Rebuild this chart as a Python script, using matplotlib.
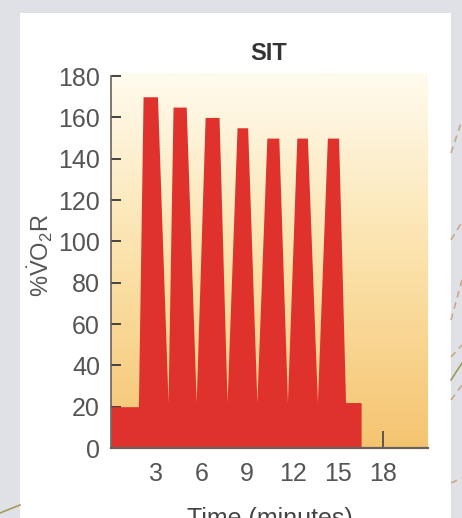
import numpy as np
import matplotlib
matplotlib.use("Agg")
import matplotlib.pyplot as plt
from matplotlib.lines import Line2D
from matplotlib.patches import Rectangle
from matplotlib.colors import LinearSegmentedColormap

# ---- data ----
time_min = [0, 1.81, 2.12, 3.07, 3.77, 4.10, 4.97, 5.63, 6.22, 7.14, 7.67,
            8.33, 9.03, 9.64, 10.30, 11.09, 11.66, 12.28, 12.98, 13.64,
            14.30, 15.04, 15.50, 16.53, 16.53]
vo2r_pct = [20, 20, 170, 170, 22, 165, 165, 22, 160, 160, 22,
            155, 155, 22, 150, 150, 22, 150, 150, 22,
            150, 150, 22, 22, 0]
x_ticks = [3, 6, 9, 12, 15, 18]
y_ticks = [0, 20, 40, 60, 80, 100, 120, 140, 160, 180]
title = "SIT"
x_label = "Time (minutes)"
y_label = r"%$\dot{\mathrm{V}}\mathrm{O}_{2}$R"

FONT = ["Liberation Sans Narrow", "Liberation Sans", "DejaVu Sans"]
plt.rcParams["font.family"] = FONT
plt.rcParams["mathtext.fontset"] = "custom"
plt.rcParams["mathtext.rm"] = "Liberation Sans"
plt.rcParams["mathtext.it"] = "Liberation Sans:italic"
plt.rcParams["mathtext.bf"] = "Liberation Sans:bold"

W, H = 462, 518
fig = plt.figure(figsize=(W / 100, H / 100), dpi=100)
fig.patch.set_facecolor("#dfe1e6")

def fx(px):
    return px / W

def fy(py):
    return 1 - py / H

# white card
fig.patches.append(Rectangle((fx(20), 0), fx(451) - fx(20), fy(13),
                             transform=fig.transFigure, facecolor="white",
                             edgecolor="none", zorder=-2))

# decorative lines on the slide background
deco = [((451, 153), (462, 120), "#c9a98a", "--"),
        ((451, 240), (462, 222), "#c9a98a", "--"),
        ((451, 320), (462, 280), "#c9a98a", "--"),
        ((451, 357), (462, 345), "#c9a98a", "--"),
        ((451, 400), (462, 385), "#c9a98a", "--"),
        ((451, 483), (462, 478), "#c9a98a", "--"),
        ((451, 380), (462, 363), "#9c9a5c", "-"),
        ((0, 513), (20, 505), "#a89a5c", "-")]
for (x0, y0), (x1, y1), c, ls in deco:
    ln = Line2D([fx(x0), fx(x1)], [fy(y0), fy(y1)],
                transform=fig.transFigure, color=c, lw=1.2, zorder=-1)
    if ls == "--":
        ln.set_dashes((4, 3))
    fig.lines.append(ln)

# axes
ax = fig.add_axes([fx(111), fy(448), fx(428) - fx(111), fy(73) - fy(448)])
ax.set_zorder(1)
ax.set_xlim(0, 20.95)
ax.set_ylim(0, 181.5)
ax.set_facecolor("none")

# background gradient
cmap = LinearSegmentedColormap.from_list("bg", ["#f5c470", "#fbe2aa", "#fffbee"])
grad = np.linspace(0, 1, 256).reshape(-1, 1)
ax.imshow(grad, cmap=cmap, origin="lower", aspect="auto",
          extent=[0, 20.95, 0, 181.5], zorder=0)

ax.fill_between(time_min, vo2r_pct, 0, color="#df322d", linewidth=0, zorder=2)

ax.set_axisbelow(True)
for s in ["top", "right"]:
    ax.spines[s].set_visible(False)
ax.spines["left"].set_bounds(0, 180)
ax.spines["left"].set_color("#6a6258")
ax.spines["left"].set_linewidth(1.2)
ax.spines["bottom"].set_color("#6a6258")
ax.spines["bottom"].set_linewidth(1.6)
ax.spines["left"].set_zorder(3)
ax.spines["bottom"].set_zorder(3)

ax.set_xticks(x_ticks)
ax.set_yticks(y_ticks)
ax.tick_params(axis="y", direction="in", length=7.5, width=1.4, color="#444444",
               labelsize=18, labelcolor="#555555", pad=8)
ax.tick_params(axis="x", direction="in", length=12, width=1.2, color="#444444",
               labelsize=18, labelcolor="#555555", pad=10)

fig.text(fx(269), fy(54), title, ha="center", va="center", fontsize=17,
         fontweight="bold", color="#333333")
fig.text(fx(40), fy(255), y_label, ha="center", va="center", rotation=90,
         fontsize=17, color="#555555")
fig.text(fx(270), fy(507), x_label, ha="center", va="top", fontsize=18,
         color="#444444")

fig.savefig("out.png", dpi=100, facecolor=fig.get_facecolor())
